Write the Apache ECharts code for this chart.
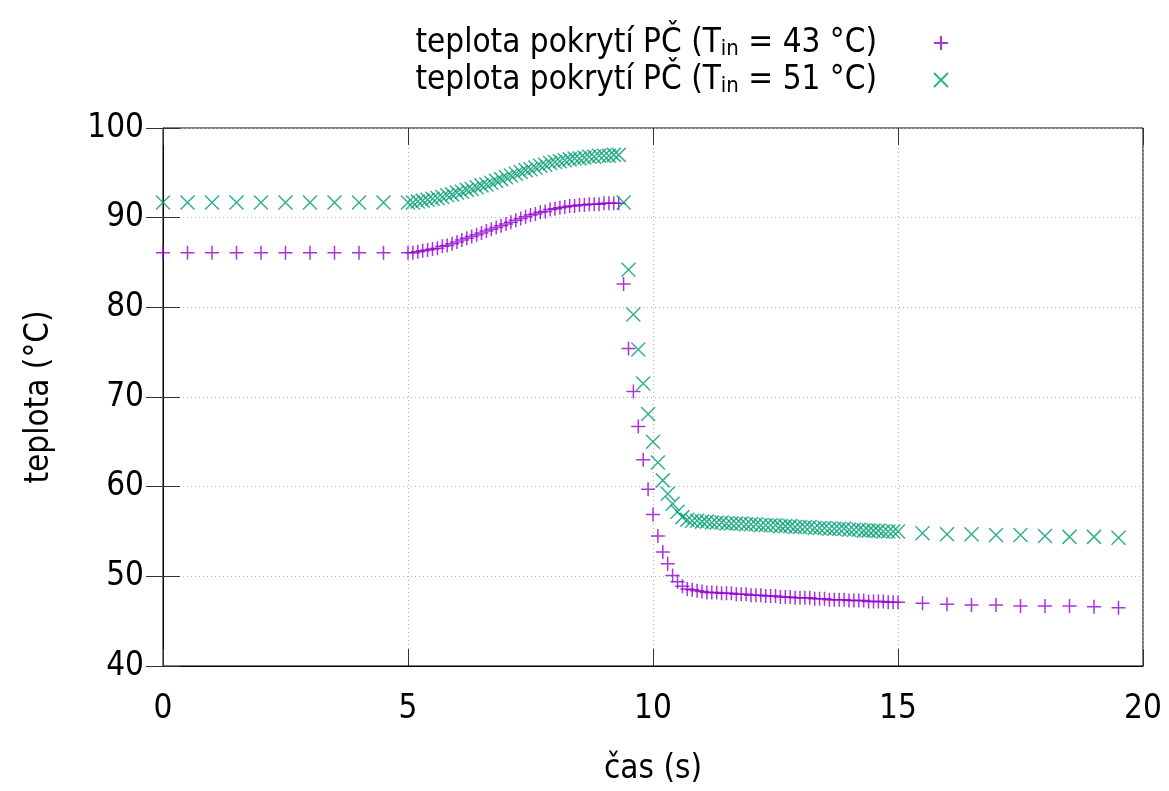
<!DOCTYPE html>
<html>
<head>
<meta charset="utf-8">
<script src="https://cdn.jsdelivr.net/npm/echarts@6/dist/echarts.min.js"></script>
<style>
  html, body { margin: 0; padding: 0; background: #fff; }
  #chart { width: 1169px; height: 791px; }
</style>
</head>
<body>
<div id="chart"></div>
<script>
'use strict';
var FONT = '"DejaVu Sans Condensed", "DejaVu Sans", sans-serif';

// cas (s)
var time = [
  0, 0.5, 1, 1.5, 2, 2.5, 3, 3.5, 4, 4.5,
  5, 5.1, 5.2, 5.3, 5.4, 5.5, 5.6, 5.7, 5.8, 5.9,
  6, 6.1, 6.2, 6.3, 6.4, 6.5, 6.6, 6.7, 6.8, 6.9,
  7, 7.1, 7.2, 7.3, 7.4, 7.5, 7.6, 7.7, 7.8, 7.9,
  8, 8.1, 8.2, 8.3, 8.4, 8.5, 8.6, 8.7, 8.8, 8.9,
  9, 9.1, 9.2, 9.3, 9.4, 9.5, 9.6, 9.7, 9.8, 9.9,
  10, 10.1, 10.2, 10.3, 10.4, 10.5, 10.6, 10.7, 10.8, 10.9,
  11, 11.1, 11.2, 11.3, 11.4, 11.5, 11.6, 11.7, 11.8, 11.9,
  12, 12.1, 12.2, 12.3, 12.4, 12.5, 12.6, 12.7, 12.8, 12.9,
  13, 13.1, 13.2, 13.3, 13.4, 13.5, 13.6, 13.7, 13.8, 13.9,
  14, 14.1, 14.2, 14.3, 14.4, 14.5, 14.6, 14.7, 14.8, 14.9,
  15, 15.5, 16, 16.5, 17, 17.5, 18, 18.5, 19, 19.5
];

// teplota pokryti, T_in = 43 °C
var temp43 = [
  86.1, 86.1, 86.1, 86.1, 86.1, 86.1, 86.1, 86.1, 86.1, 86.1,
  86.1, 86.1, 86.2, 86.3, 86.4, 86.5, 86.6, 86.8, 86.9, 87.1,
  87.3, 87.5, 87.7, 87.9, 88.1, 88.3, 88.5, 88.7, 88.9, 89.1,
  89.3, 89.5, 89.7, 89.9, 90.1, 90.3, 90.4, 90.6, 90.7, 90.9,
  91.0, 91.1, 91.2, 91.3, 91.3, 91.4, 91.4, 91.5, 91.5, 91.5,
  91.6, 91.6, 91.6, 91.6, 82.6, 75.4, 70.6, 66.7, 63.0, 59.7,
  56.9, 54.5, 52.7, 51.4, 50.1, 49.4, 48.9, 48.6, 48.5, 48.4,
  48.3, 48.2, 48.2, 48.2, 48.1, 48.1, 48.1, 48.0, 48.0, 48.0,
  47.9, 47.9, 47.9, 47.8, 47.8, 47.8, 47.7, 47.7, 47.7, 47.6,
  47.6, 47.6, 47.6, 47.5, 47.5, 47.5, 47.4, 47.4, 47.4, 47.4,
  47.3, 47.3, 47.3, 47.3, 47.2, 47.2, 47.2, 47.2, 47.1, 47.1,
  47.1, 47.0, 46.9, 46.8, 46.8, 46.7, 46.7, 46.7, 46.6, 46.5
];

// teplota pokryti, T_in = 51 °C
var temp51 = [
  91.7, 91.7, 91.7, 91.7, 91.7, 91.7, 91.7, 91.7, 91.7, 91.7,
  91.7, 91.7, 91.8, 91.9, 92.0, 92.1, 92.2, 92.3, 92.5, 92.6,
  92.8, 92.9, 93.1, 93.2, 93.4, 93.6, 93.7, 93.9, 94.1, 94.3,
  94.5, 94.7, 94.9, 95.1, 95.3, 95.4, 95.6, 95.8, 95.9, 96.1,
  96.2, 96.3, 96.4, 96.5, 96.6, 96.6, 96.7, 96.8, 96.8, 96.9,
  96.9, 96.9, 97.0, 97.0, 91.7, 84.2, 79.2, 75.3, 71.5, 68.1,
  65.0, 62.7, 60.7, 59.2, 58.1, 57.2, 56.6, 56.3, 56.2, 56.2,
  56.1, 56.1, 56.0, 56.0, 56.0, 55.9, 55.9, 55.9, 55.9, 55.8,
  55.8, 55.8, 55.7, 55.7, 55.7, 55.7, 55.6, 55.6, 55.6, 55.5,
  55.5, 55.5, 55.5, 55.4, 55.4, 55.4, 55.3, 55.3, 55.3, 55.3,
  55.2, 55.2, 55.2, 55.1, 55.1, 55.1, 55.1, 55.0, 55.0, 55.0,
  55.0, 54.8, 54.7, 54.7, 54.6, 54.6, 54.5, 54.4, 54.4, 54.3
];

var inletTemps = ['43', '51'];
var seriesNames = ['teplota pokrytí PČ (Tin = 43 °C)', 'teplota pokrytí PČ (Tin = 51 °C)'];
var colors = ['#9400d3', '#009e73'];
var symbols = ['path://M0,7L14,7M7,0L7,14', 'path://M0,0L14,14M0,14L14,0'];

function pairs(xs, ys) {
  var out = [];
  for (var i = 0; i < xs.length; i++) {
    out.push([xs[i], ys[i]]);
  }
  return out;
}

var chart = echarts.init(document.getElementById('chart'), null, { renderer: 'canvas' });

var tickStyle = { show: true, inside: true, length: 17, lineStyle: { color: '#333', width: 1 } };
var gridLine = { show: true, lineStyle: { color: '#b4b4b4', width: 1, type: [1, 3] } };

var option = {
  animation: false,
  backgroundColor: '#fff',
  textStyle: { fontFamily: FONT },
  grid: {
    left: 163, right: 26, top: 128, bottom: 124,
    show: true, borderColor: '#000', borderWidth: 1, backgroundColor: 'transparent'
  },
  legend: {
    orient: 'vertical',
    align: 'right',
    right: 215,
    top: 22,
    itemWidth: 14,
    itemHeight: 14,
    itemGap: 4,
    selectedMode: false,
    data: seriesNames,
    formatter: function (name) {
      var i = seriesNames.indexOf(name);
      return '{n|teplota pokrytí PČ (T}{s|in}{n| = ' + inletTemps[i] + ' °C)}';
    },
    textStyle: {
      fontFamily: FONT,
      padding: [0, 52, 0, 0],
      rich: {
        n: { fontFamily: FONT, fontSize: 33, color: '#000', lineHeight: 34, verticalAlign: 'bottom' },
        s: { fontFamily: FONT, fontSize: 22, color: '#000', lineHeight: 8, verticalAlign: 'bottom' }
      }
    }
  },
  xAxis: [{
    type: 'value',
    min: 0, max: 20, interval: 5,
    name: 'čas (s)',
    nameLocation: 'middle',
    nameGap: 87,
    nameTextStyle: { fontFamily: FONT, fontSize: 33, color: '#000' },
    axisLine: { show: true, lineStyle: { color: '#000', width: 1 } },
    axisTick: tickStyle,
    axisLabel: { fontFamily: FONT, fontSize: 33, color: '#000', margin: 27 },
    splitLine: gridLine
  }, {
    type: 'value',
    position: 'top',
    min: 0, max: 20, interval: 5,
    axisLine: { show: false },
    axisTick: tickStyle,
    axisLabel: { show: false },
    splitLine: { show: false }
  }],
  yAxis: [{
    type: 'value',
    min: 40, max: 100, interval: 10,
    name: 'teplota (°C)',
    nameLocation: 'middle',
    nameGap: 107,
    nameRotate: 90,
    nameTextStyle: { fontFamily: FONT, fontSize: 33, color: '#000' },
    axisLine: { show: true, lineStyle: { color: '#000', width: 1 } },
    axisTick: tickStyle,
    axisLabel: { fontFamily: FONT, fontSize: 33, color: '#000', margin: 19 },
    splitLine: gridLine
  }, {
    type: 'value',
    position: 'right',
    min: 40, max: 100, interval: 10,
    axisLine: { show: false },
    axisTick: tickStyle,
    axisLabel: { show: false },
    splitLine: { show: false }
  }],
  series: [temp43, temp51].map(function (vals, i) {
    return {
      name: seriesNames[i],
      type: 'scatter',
      xAxisIndex: 0,
      yAxisIndex: 0,
      data: pairs(time, vals),
      symbol: symbols[i],
      symbolSize: 14,
      itemStyle: { color: colors[i], borderColor: colors[i], borderWidth: 1.5 },
      emphasis: { disabled: true },
      silent: true
    };
  })
};

chart.setOption(option);
</script>
</body>
</html>
